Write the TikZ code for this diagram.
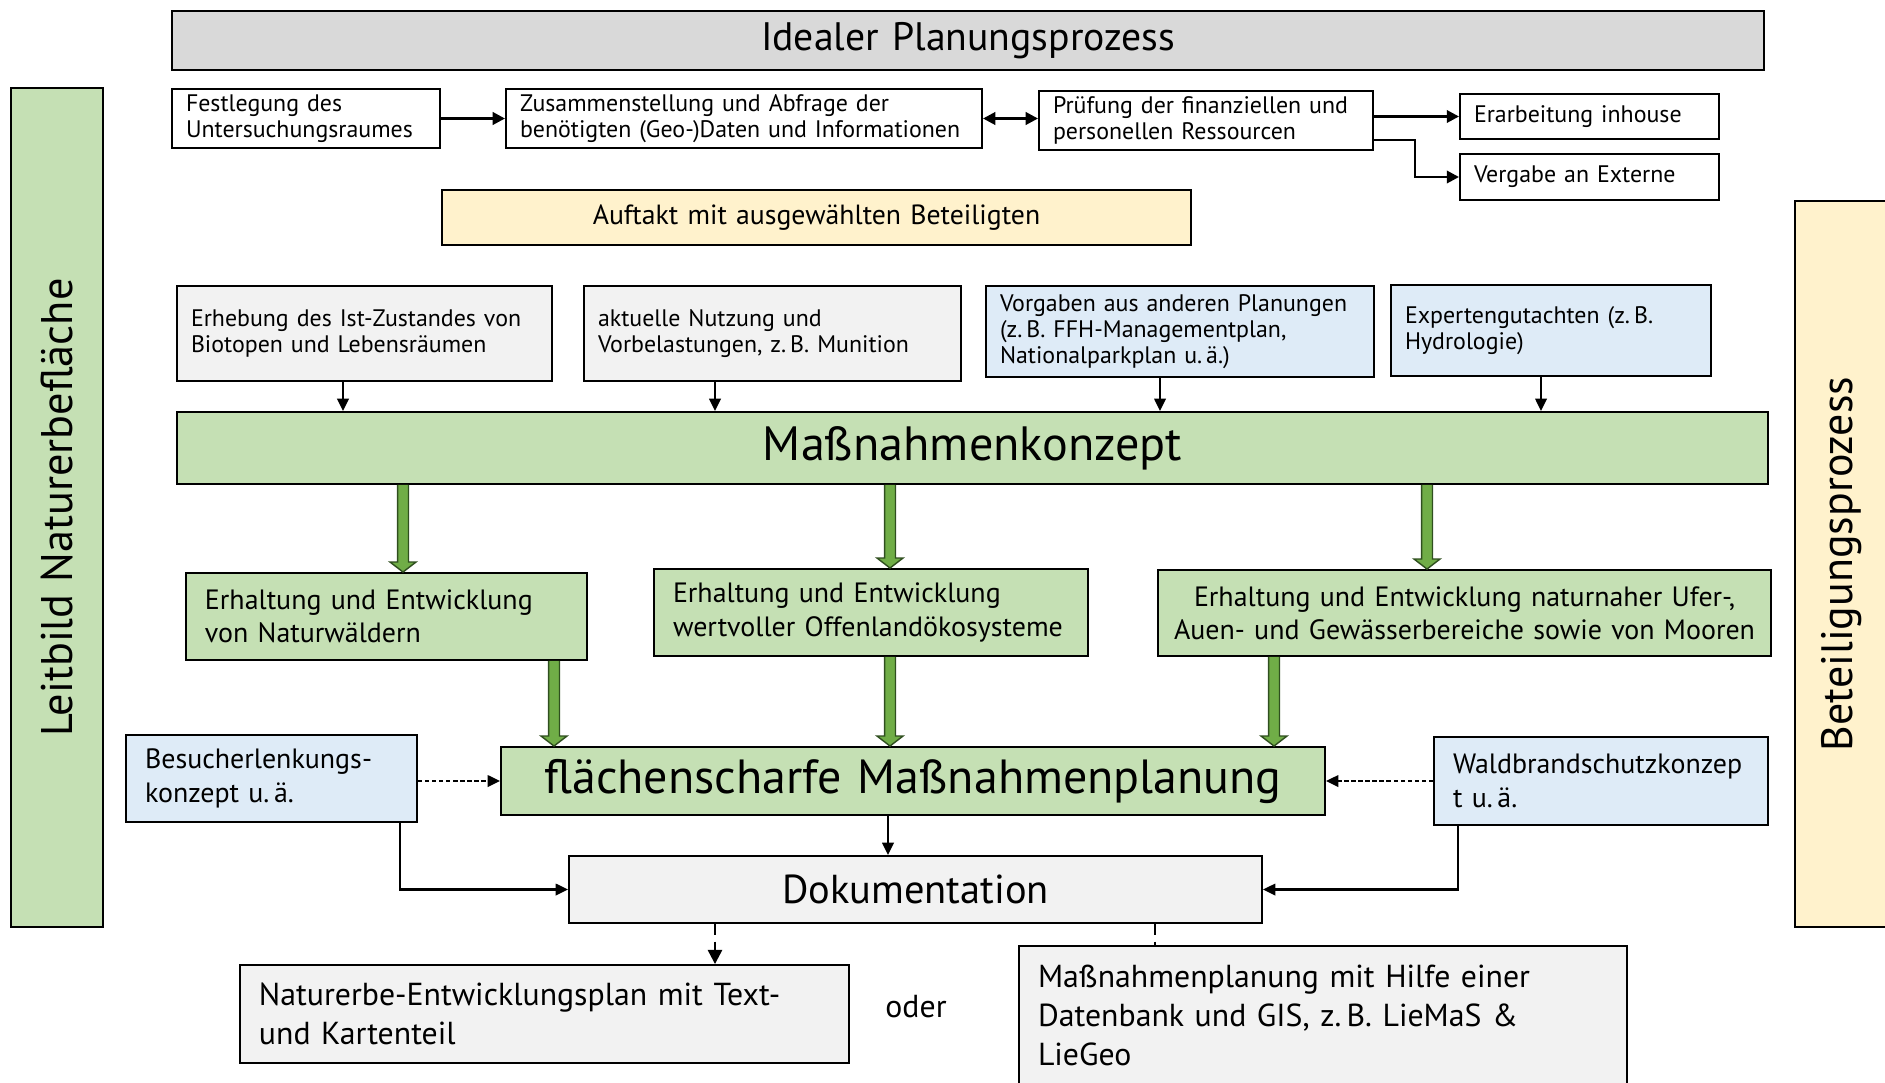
\documentclass[tikz,border=0pt]{standalone}
\usepackage{fontspec}
\setmainfont{PT Sans}
\usetikzlibrary{arrows.meta,calc}
\definecolor{cgreen}{HTML}{C5E0B4}
\definecolor{cyellow}{HTML}{FFF2CC}
\definecolor{cblue}{HTML}{DEEBF7}
\definecolor{cgray}{HTML}{F2F2F2}
\definecolor{ctitle}{HTML}{D9D9D9}
\definecolor{agreen}{HTML}{70AD47}
\definecolor{dgreen}{HTML}{2F4F1F}
\newcommand\bx[8]{%
 \pgfmathsetmacro\bxh{(#5-#3)*0.02}%
 \pgfmathsetmacro\bxt{(#4-#2-2*#7)*0.02}%
 \pgfmathsetmacro\bxp{#7*0.02}%
 \node[box,#6,minimum height=\bxh cm,text width=\bxt cm,inner xsep=\bxp cm] (#1) at ({(#2+#4)/2},{(#3+#5)/2}) {#8};}
\newcommand\garrow[2]{%
 \filldraw[garr] let \p1=(#1), \p2=(#2) in
 (\x1-3.1pt,\y1) -- (\x1-3.1pt,\y2+5.7pt) -- (\x1-7.4pt,\y2+5.7pt) -- (\x1,\y2)
 -- (\x1+7.4pt,\y2+5.7pt) -- (\x1+3.1pt,\y2+5.7pt) -- (\x1+3.1pt,\y1);}
\tikzset{
 box/.style={draw=black, line width=1.1pt, inner ysep=0pt, align=left},
 ctr/.style={align=center},
 fs/.style={font=\fontsize{13.6}{14.8}\selectfont},
 fm/.style={font=\fontsize{15.9}{19}\selectfont},
 fl/.style={font=\fontsize{18.1}{22}\selectfont},
 arr/.style={line width=1.2pt, -{Triangle[length=7pt,width=6.5pt]}},
 arrt/.style={line width=1.6pt, -{Triangle[length=7pt,width=7pt]}},
 arrtb/.style={line width=1.6pt, {Triangle[length=7pt,width=7pt]}-{Triangle[length=7pt,width=7pt]}},
 darr/.style={line width=1.2pt, dash pattern=on 2.5pt off 1.5pt, -{Triangle[length=7pt,width=6.5pt]}},
 ddarr/.style={line width=1.3pt, dash pattern=on 6pt off 4pt, -{Triangle[length=8pt,width=8pt]}},
 dline/.style={line width=1.3pt, dash pattern=on 6pt off 4pt},
 garr/.style={fill=agreen, draw=dgreen, line width=0.8pt, line join=miter},
}
\begin{document}
\begin{tikzpicture}[x=0.02cm,y=-0.02cm]
\useasboundingbox (0,0) rectangle (1885,1082);
\clip (0,0) rectangle (1885,1082);
% side bars
\node[box, fill=cgreen, rotate=90, minimum width=16.78cm, minimum height=1.84cm, inner sep=0pt, font=\fontsize{25.2}{28}\selectfont] (lb) at (57,507.5) {Leitbild Naturerbefläche};
\node[box, fill=cyellow, rotate=90, minimum width=14.52cm, minimum height=1.9cm, inner sep=0pt, font=\fontsize{25}{28}\selectfont] (bp) at (1842,564) {Beteiligungsprozess};
% title
\bx{ti}{172}{11}{1764}{70}{fill=ctitle,ctr,font=\fontsize{22.6}{25}\selectfont}{0}{Idealer Planungsprozess}
% top row
\bx{fe}{172}{89}{440}{148}{fs}{14}{Festlegung des\\Untersuchungsraumes}
\bx{zu}{506}{89}{982}{148}{fs}{14}{Zusammenstellung und Abfrage der\\benötigten (Geo-)Daten und Informationen}
\bx{pr}{1039}{91}{1373}{150}{fs}{14}{Prüfung der finanziellen und\\personellen Ressourcen}
\bx{ea}{1460}{94}{1719}{139}{fs}{14}{Erarbeitung inhouse}
\bx{ve}{1460}{154}{1719}{200}{fs}{14}{Vergabe an Externe}
\bx{au}{442}{190}{1191}{245}{fill=cyellow,ctr,font=\fontsize{15.8}{18}\selectfont}{0}{Auftakt mit ausgewählten Beteiligten}
% inputs
\bx{eh}{177}{286}{552}{381}{fill=cgray,fs}{14}{Erhebung des Ist-Zustandes von\\Biotopen und Lebensräumen}
\bx{ak}{584}{286}{961}{381}{fill=cgray,fs}{14}{aktuelle Nutzung und\\Vorbelastungen, z.\,B. Munition}
\bx{vo}{986}{286}{1374}{377}{fill=cblue,fs}{14}{Vorgaben aus anderen Planungen\\(z.\,B. FFH-Managementplan,\\Nationalparkplan u.\,ä.)}
\bx{ex}{1391}{285}{1711}{376}{fill=cblue,fs}{14}{Expertengutachten (z.\,B.\\Hydrologie)}
% concept
\bx{mk}{177}{412}{1768}{484}{fill=cgreen,ctr,font=\fontsize{27.4}{31}\selectfont}{0}{Maßnahmenkonzept}
\bx{e1}{186}{573}{587}{660}{fill=cgreen,fm}{19}{Erhaltung und Entwicklung\\von Naturwäldern}
\bx{e2}{654}{569}{1088}{656}{fill=cgreen,fm}{19}{Erhaltung und Entwicklung\\wertvoller Offenlandökosysteme}
\bx{e3}{1158}{570}{1771}{656}{fill=cgreen,fm,ctr}{5}{Erhaltung und Entwicklung naturnaher Ufer-,\\Auen- und Gewässerbereiche sowie von Mooren}
\bx{fl}{501}{747}{1325}{815}{fill=cgreen,ctr,font=\fontsize{27.3}{31}\selectfont}{0}{flächenscharfe Maßnahmenplanung}
\bx{be}{126}{735}{417}{822}{fill=cblue,fm}{19}{Besucherlenkungs-\\konzept u.\,ä.}
\bx{wa}{1434}{737}{1768}{825}{fill=cblue,fm}{19}{Waldbrandschutzkonzep\\t u.\,ä.}
\bx{do}{569}{856}{1262}{923}{fill=cgray,ctr,font=\fontsize{23}{26}\selectfont}{0}{Dokumentation}
\bx{na}{240}{965}{849}{1063}{fill=cgray,fl}{19}{Naturerbe-Entwicklungsplan mit Text-\\und Kartenteil}
\bx{md}{1019}{946}{1627}{1085}{fill=cgray,fl}{19}{Maßnahmenplanung mit Hilfe einer\\Datenbank und GIS, z.\,B. LieMaS \&\\LieGeo}
\node[fl] (od) at (916,1007) {oder};
% top connectors
\draw[arrt] (fe.east) -- (zu.west);
\draw[arrtb] (zu.east) -- (zu.east -| pr.west);
\draw[arrt] (pr.east |- ea.west) -- (ea.west);
\coordinate (pv) at ($(pr.south east)+(0,-11)$);
\draw[arrt] (pv) -| (1415,177) -- (ve.west);
% inputs to concept
\draw[arr] (eh.south -| 343,0) -- (mk.north -| 343,0);
\draw[arr] (ak.south -| 715,0) -- (mk.north -| 715,0);
\draw[arr] (vo.south -| 1160,0) -- (mk.north -| 1160,0);
\draw[arr] (ex.south -| 1541,0) -- (mk.north -| 1541,0);
% green arrows
\garrow{mk.south -| 403,0}{e1.north -| 403,0}
\garrow{mk.south -| 890,0}{e2.north -| 890,0}
\garrow{mk.south -| 1427,0}{e3.north -| 1427,0}
\garrow{e1.south -| 554,0}{fl.north -| 554,0}
\garrow{e2.south -| 890,0}{fl.north -| 890,0}
\garrow{e3.south -| 1274,0}{fl.north -| 1274,0}
% lower connectors
\draw[darr] (be.east |- fl.west) -- (fl.west);
\draw[darr] (wa.west |- fl.east) -- (fl.east);
\draw[arr] (fl.south -| 888,0) -- (do.north -| 888,0);
\draw[arr] (be.south -| 400,0) |- (do.west);
\draw[arr] (wa.south -| 1458,0) |- (do.east);
\draw[ddarr] (do.south -| 715,0) -- (na.north -| 715,0);
\draw[dline] (do.south -| 1155,0) -- (md.north -| 1155,0);
\end{tikzpicture}
\end{document}
